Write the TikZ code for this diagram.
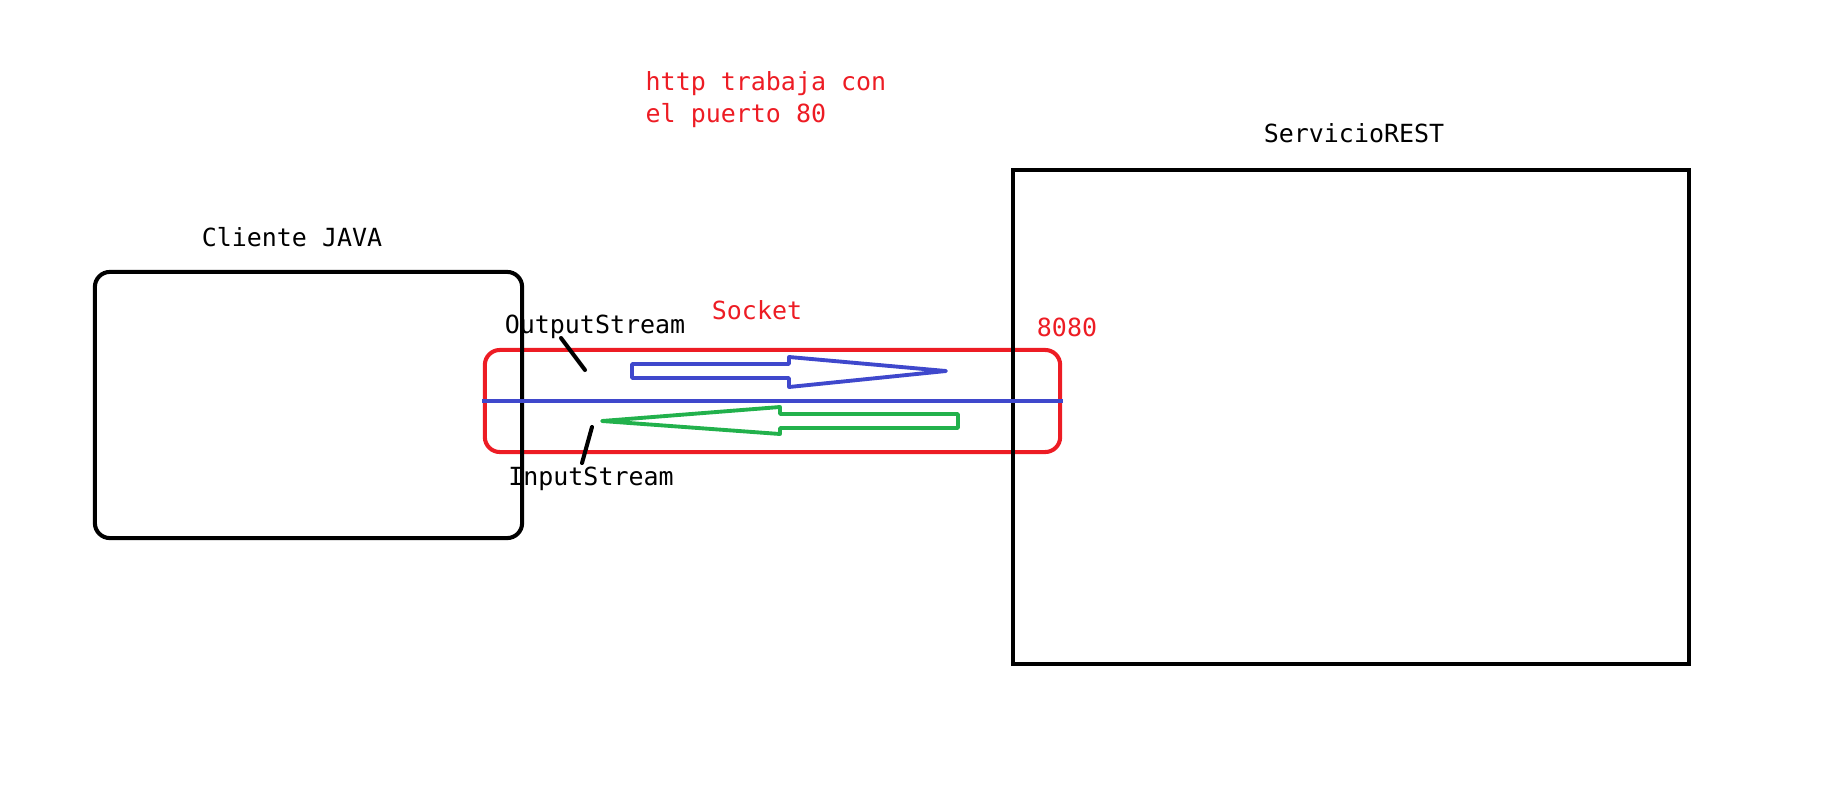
\documentclass[tikz,border=0pt]{standalone}
\usepackage{fontspec}
\setmonofont{DejaVu Sans Mono}
\usetikzlibrary{positioning}
\definecolor{paintred}{HTML}{ED1C24}
\definecolor{paintblue}{HTML}{3F48CC}
\definecolor{paintgreen}{HTML}{22B14C}

\begin{document}
\begin{tikzpicture}[x=0.01cm, y=-0.01cm,
    every node/.style={font=\ttfamily\fontsize{7.1}{9}\selectfont, inner sep=0pt},
    thickpen/.style={line width=1.15pt},
    clientbox/.style={draw, thickpen, rounded corners=0.15cm,
                      minimum width=4.27cm, minimum height=2.66cm},
    serverbox/.style={draw, thickpen, minimum width=6.76cm, minimum height=4.94cm},
    socketbox/.style={draw=paintred, thickpen, rounded corners=0.15cm,
                      minimum width=5.75cm, minimum height=1.02cm},
    redtext/.style={text=paintred},
    flecha/.style={line width=1.1pt, line join=round},
  ]
  \useasboundingbox (0,0) rectangle (1843,797);

  \node[socketbox] (socket)   at (772.5,401) {};
  \node[clientbox] (cliente)  at (308.5,405) {};
  \node[serverbox] (servicio) at (1351,417)  {};

  \node[anchor=base] (clienteLbl)  at (292,246)  {Cliente JAVA};
  \node[anchor=base] (servicioLbl) at (1354,142) {ServicioREST};
  \node[redtext, anchor=base west, align=left] (nota) at (645,122)
    {http trabaja con\\el puerto 80};
  \node[redtext, anchor=base] (socketLbl) at (757,319) {Socket};
  \node[redtext, anchor=base] (puerto)    at (1067,336) {8080};
  \node[anchor=base] (outLbl) at (595,333) {OutputStream};
  \node[anchor=base] (inLbl)  at (591,485) {InputStream};

  % linea del socket
  \coordinate (lineaA) at (482,401);
  \coordinate (lineaB) at (1063,401);
  \draw[paintblue, line width=1.05pt] (lineaA) -- (lineaB);

  % flechas de envio y recepcion
  \draw[paintblue, flecha] (632,364) -- (789,364) -- (789,357) -- (946,371)
    -- (789,387) -- (789,378) -- (632,378) -- cycle;
  \draw[paintgreen, flecha] (958,414) -- (780,414) -- (780,407) -- (602,421)
    -- (780,434) -- (780,428) -- (958,428) -- cycle;

  % punteros a los streams
  \coordinate (outA) at (561,338);
  \coordinate (outB) at (585,370);
  \draw[thickpen, line cap=round] (outA) -- (outB);
  \coordinate (inA) at (592,427);
  \coordinate (inB) at (582,463);
  \draw[thickpen, line cap=round] (inA) -- (inB);
\end{tikzpicture}
\end{document}
